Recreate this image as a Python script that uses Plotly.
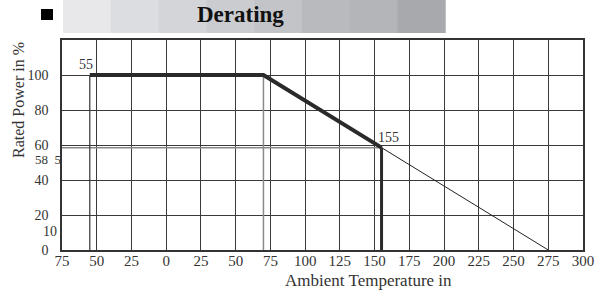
import plotly.graph_objects as go

# ---- data ----
x_tick_vals = [-75, -50, -25, 0, 25, 50, 75, 100, 125, 150, 175, 200, 225, 250, 275, 300]
x_tick_text = ["75", "50", "25", "0", "25", "50", "75", "100", "125", "150", "175", "200", "225", "250", "275", "300"]
y_tick_vals = [0, 20, 40, 60, 80, 100, 120]
y_tick_text = ["0", "20", "40", "60", "80", "100", ""]

curve_temp = [-55, 70, 155]
curve_power = [100, 100, 58.5]
ext_temp = [155, 275]
ext_power = [58.5, 0]
cut_temp = [155, 155]
cut_power = [58.5, 0]
low_guide_temp = [-55, -55]
low_guide_power = [100, 0]
knee_guide_temp = [70, 70]
knee_guide_power = [100, 0]
level_guide_temp = [-75, 155]
level_guide_power = [58.5, 58.5]

band_colors = ["#e8e8ea", "#dcdde0", "#d4d5d8", "#cbccd0", "#c3c4c8", "#b9babe", "#b4b5b9", "#a8a9ad"]

FONT = "Liberation Serif"
TXT = "#333333"

fig = go.Figure()

def line(x, y, color, width):
    fig.add_trace(go.Scatter(x=x, y=y, mode="lines", line=dict(color=color, width=width),
                             hoverinfo="skip", showlegend=False))

line(level_guide_temp, level_guide_power, "#8a8a8a", 1.5)
line(knee_guide_temp, knee_guide_power, "#8a8a8a", 1.5)
line(low_guide_temp, low_guide_power, "#333333", 1.2)
line(ext_temp, ext_power, "#222222", 1)
line(curve_temp, curve_power, "#2a2a2a", 4)
line(cut_temp, cut_power, "#2a2a2a", 3)

# plot area in pixels: x 62..582.7, y 40..250
L, R, T, B = 62, 582.7, 40, 250
W, H = 608, 294
def px(xp):
    return (xp - L) / (R - L)
def py(yp):
    return (B - yp) / (B - T)

shapes = []
n = len(band_colors)
x0, x1 = 63, 445
seg = (x1 - x0) / n
for i, c in enumerate(band_colors):
    shapes.append(dict(type="rect", xref="paper", yref="paper",
                       x0=px(x0 + i * seg), x1=px(x0 + (i + 1) * seg + 0.5),
                       y0=py(33), y1=py(0), fillcolor=c, line=dict(width=0), layer="below"))
shapes.append(dict(type="rect", xref="paper", yref="paper",
                   x0=px(41), x1=px(53), y0=py(20), y1=py(9),
                   fillcolor="#000000", line=dict(width=0)))

annotations = [
    dict(text="<b>Derating</b>", xref="paper", yref="paper", x=px(240.5), y=py(15),
         showarrow=False, font=dict(family=FONT, size=23, color="#111111"),
         xanchor="center", yanchor="middle"),
    dict(text="55", x=-55, y=100, xref="x", yref="y", showarrow=False,
         xanchor="right", yanchor="bottom", xshift=5, yshift=1,
         font=dict(family=FONT, size=14, color=TXT)),
    dict(text="155", x=155, y=58.5, xref="x", yref="y", showarrow=False,
         xanchor="left", yanchor="bottom", xshift=-6, yshift=1,
         font=dict(family=FONT, size=14, color=TXT)),
    dict(text="58  5", x=-75, y=58.5, xref="x", yref="y", showarrow=False,
         xanchor="right", yanchor="middle", xshift=1, yshift=-12,
         font=dict(family=FONT, size=13, color=TXT)),
    dict(text="10", x=-75, y=10, xref="x", yref="y", showarrow=False,
         xanchor="right", yanchor="middle", xshift=-3, yshift=1,
         font=dict(family=FONT, size=14, color=TXT)),
    dict(text="Rated Power in %", xref="paper", yref="paper", x=px(18), y=py(100),
         showarrow=False, textangle=-90, xanchor="center", yanchor="middle",
         font=dict(family=FONT, size=16, color=TXT)),
    dict(text="Ambient Temperature in", xref="paper", yref="paper", x=px(368), y=py(280),
         showarrow=False, xanchor="center", yanchor="middle",
         font=dict(family=FONT, size=17, color=TXT)),
]

fig.update_layout(
    width=W, height=H,
    margin=dict(l=L, r=W - R, t=T, b=H - B),
    paper_bgcolor="white", plot_bgcolor="white",
    shapes=shapes, annotations=annotations,
    showlegend=False,
    font=dict(family=FONT, size=14, color=TXT),
)
fig.update_xaxes(range=[-75, 300], tickvals=x_tick_vals, ticktext=x_tick_text,
                 showgrid=True, gridcolor="#3a3a3a", gridwidth=1,
                 showline=True, linecolor="#333333", linewidth=1.5, mirror=True,
                 zeroline=False, ticks="", ticklabelstandoff=-4,
                 tickfont=dict(family=FONT, size=15, color=TXT))
fig.update_yaxes(range=[0, 120], tickvals=y_tick_vals, ticktext=y_tick_text,
                 showgrid=True, gridcolor="#3a3a3a", gridwidth=1,
                 showline=True, linecolor="#333333", linewidth=1.5, mirror=True,
                 zeroline=False, ticks="", ticklabelstandoff=9,
                 tickfont=dict(family=FONT, size=14, color=TXT))

fig.write_html("out.html", config={"displayModeBar": False},
               post_script="document.body.style.margin='0';document.body.style.overflow='hidden';")
